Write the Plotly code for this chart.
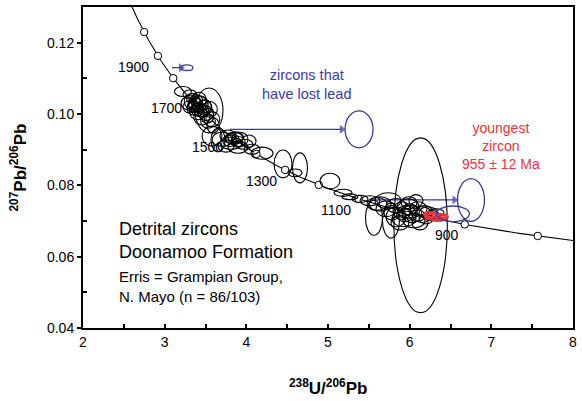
import numpy as np
import plotly.graph_objects as go

# Decay constants (per year) and 238U/235U ratio for the Tera-Wasserburg concordia
LAMBDA_238 = 1.55125e-10
LAMBDA_235 = 9.8485e-10
U_RATIO = 137.88

marker_ages_ma = [2000, 1900, 1800, 1700, 1600, 1500, 1400, 1300, 1200, 1100, 1000, 900, 800]
curve_age_min, curve_age_max = 755, 2110

age_labels = ["1900", "1700", "1500", "1300", "1100", "900"]
age_label_x = [2.62, 3.02, 3.53, 4.19, 5.10, 6.46]
age_label_y = [0.1131, 0.1016, 0.0908, 0.0813, 0.0731, 0.0660]

# Black error ellipses: centre x, centre y, half-width, half-height
ell_x = [3.224, 3.310, 3.543, 3.335, 3.384, 3.433, 3.482, 3.408, 3.506, 3.555, 3.359, 3.457, 3.580,
         3.531, 3.286, 3.592, 3.420, 3.580, 3.370, 3.450, 3.520, 3.300,
         3.350, 3.400, 3.470, 3.440, 3.390, 3.500,
         3.702, 3.775, 3.849, 3.922, 3.812, 3.971, 3.751, 3.898, 4.033, 3.653, 4.069, 3.800, 3.870,
         3.830, 3.900,
         4.192, 4.449, 4.657, 4.596,
         5.024, 5.184, 5.269, 5.392, 5.514, 5.600, 5.563, 5.771, 6.134,
         5.637, 5.710, 5.833, 5.906, 5.979, 6.028, 6.102, 5.930, 6.053, 5.833, 6.151, 6.224,
         6.126, 5.992, 5.784, 6.200, 6.273, 5.881, 6.077, 5.735, 6.322, 5.960, 6.090, 6.180,
         6.000, 5.940]
ell_y = [0.1063, 0.1055, 0.1010, 0.1035, 0.1024, 0.1027, 0.1018, 0.1007, 0.1002, 0.1013, 0.1016, 0.0991, 0.0985,
         0.0980, 0.1030, 0.0968, 0.1041, 0.0938, 0.1030, 0.1010, 0.0995, 0.1020,
         0.1022, 0.1012, 0.1008, 0.1030, 0.1038, 0.1022,
         0.0929, 0.0938, 0.0932, 0.0929, 0.0918, 0.0915, 0.0910, 0.0907, 0.0924, 0.0927, 0.0901, 0.0925, 0.0935,
         0.0930, 0.0922,
         0.0890, 0.0860, 0.0849, 0.0835,
         0.0812, 0.0779, 0.0768, 0.0762, 0.0757, 0.0748, 0.0709, 0.0701, 0.0688,
         0.0748, 0.0734, 0.0743, 0.0729, 0.0740, 0.0720, 0.0734, 0.0706, 0.0701, 0.0712, 0.0718, 0.0723,
         0.0695, 0.0751, 0.0723, 0.0706, 0.0715, 0.0695, 0.0757, 0.0757, 0.0723, 0.0725, 0.0715, 0.0728,
         0.0732, 0.0716]
ell_rx = [0.104, 0.086, 0.171, 0.095, 0.090, 0.100, 0.095, 0.105, 0.095, 0.090, 0.085, 0.100, 0.095,
          0.090, 0.085, 0.075, 0.090, 0.122, 0.080, 0.085, 0.080, 0.075,
          0.070, 0.075, 0.070, 0.080, 0.075, 0.070,
          0.122, 0.098, 0.110, 0.098, 0.135, 0.110, 0.098, 0.122, 0.086, 0.086, 0.098, 0.090, 0.095,
          0.080, 0.085,
          0.135, 0.110, 0.092, 0.086,
          0.122, 0.110, 0.098, 0.098, 0.122, 0.122, 0.104, 0.104, 0.327,
          0.135, 0.122, 0.122, 0.110, 0.135, 0.122, 0.110, 0.147, 0.135, 0.122, 0.122, 0.110,
          0.098, 0.098, 0.098, 0.086, 0.098, 0.110, 0.086, 0.159, 0.098, 0.110, 0.100, 0.095,
          0.090, 0.100]
ell_ry = [0.0014, 0.00125, 0.0063, 0.0022, 0.0020, 0.0024, 0.0021, 0.0023, 0.0020, 0.0022, 0.0019, 0.0022, 0.0021,
          0.0020, 0.0018, 0.0022, 0.0020, 0.0028, 0.0020, 0.0019, 0.0021, 0.0017,
          0.0017, 0.0018, 0.0017, 0.0019, 0.0016, 0.0018,
          0.0020, 0.0017, 0.0017, 0.0020, 0.0017, 0.0014, 0.0017, 0.0017, 0.0017, 0.0033, 0.0014, 0.0016, 0.0015,
          0.0014, 0.0015,
          0.0017, 0.0039, 0.0042, 0.0011,
          0.0022, 0.0010, 0.0008, 0.0010, 0.0014, 0.0018, 0.0049, 0.0049, 0.0245,
          0.0020, 0.0022, 0.0020, 0.0025, 0.0022, 0.0025, 0.0020, 0.0022, 0.0020, 0.0028, 0.0022, 0.0017,
          0.0020, 0.0017, 0.0020, 0.0014, 0.0014, 0.0020, 0.0017, 0.0022, 0.0011, 0.0018, 0.0016, 0.0015,
          0.0016, 0.0018]

# Youngest zircon (red)
red_x = [6.310, 6.396, 6.249, 6.347]
red_y = [0.0712, 0.0712, 0.0718, 0.0706]
red_rx = [0.122, 0.073, 0.073, 0.085]
red_ry = [0.0008, 0.0007, 0.0007, 0.0006]

# Lead-loss zircons (blue)
blue_x = [3.273, 5.380, 6.751, 6.530]
blue_y = [0.1130, 0.0957, 0.0759, 0.0720]
blue_rx = [0.073, 0.171, 0.165, 0.202]
blue_ry = [0.0008, 0.0052, 0.0060, 0.0022]

# Blue arrows (start x, end x, y)
arrow_x0 = [3.09, 3.80, 5.51]
arrow_x1 = [3.20, 5.17, 6.55]
arrow_y = [0.1130, 0.0957, 0.0759]

BLUE = "#3B3B9E"
RED = "#E8323C"
FONT = "Arial, Liberation Sans, sans-serif"


def concordia(t_ma):
    t = np.asarray(t_ma, dtype=float) * 1e6
    e238 = np.exp(LAMBDA_238 * t) - 1.0
    e235 = np.exp(LAMBDA_235 * t) - 1.0
    return 1.0 / e238, e235 / e238 / U_RATIO


fig = go.Figure()

shapes = []
for cx, cy, rx, ry in zip(ell_x, ell_y, ell_rx, ell_ry):
    shapes.append(dict(type="circle", xref="x", yref="y", x0=cx - rx, x1=cx + rx,
                       y0=cy - ry, y1=cy + ry, line=dict(color="black", width=1.1)))
for cx, cy, rx, ry in zip(red_x, red_y, red_rx, red_ry):
    shapes.append(dict(type="circle", xref="x", yref="y", x0=cx - rx, x1=cx + rx,
                       y0=cy - ry, y1=cy + ry, line=dict(color=RED, width=2)))
for cx, cy, rx, ry in zip(blue_x, blue_y, blue_rx, blue_ry):
    shapes.append(dict(type="circle", xref="x", yref="y", x0=cx - rx, x1=cx + rx,
                       y0=cy - ry, y1=cy + ry, line=dict(color=BLUE, width=1.3)))

# Concordia curve
t_curve = np.linspace(curve_age_min, curve_age_max, 400)
cx_, cy_ = concordia(t_curve)
fig.add_trace(go.Scatter(x=cx_, y=cy_, mode="lines", line=dict(color="black", width=1.1),
                         hoverinfo="skip", showlegend=False))
mx, my = concordia(marker_ages_ma)
fig.add_trace(go.Scatter(x=mx, y=my, mode="markers",
                         marker=dict(symbol="circle", size=7.5, color="white",
                                     line=dict(color="black", width=1)),
                         showlegend=False))

# Blue arrows as line traces with triangular heads
for x0, x1, y in zip(arrow_x0, arrow_x1, arrow_y):
    fig.add_trace(go.Scatter(x=[x0, x1], y=[y, y], mode="lines+markers",
                             line=dict(color=BLUE, width=1.3),
                             marker=dict(symbol=["circle", "triangle-right"], size=[0, 8],
                                         color=BLUE, line=dict(width=0)),
                             hoverinfo="skip", showlegend=False))

annotations = []
for txt, ax_, ay_ in zip(age_labels, age_label_x, age_label_y):
    annotations.append(dict(x=ax_, y=ay_, xref="x", yref="y", text=txt, showarrow=False,
                            font=dict(family=FONT, size=14, color="black")))

annotations += [
    dict(x=4.74, y=0.1084, xref="x", yref="y", text="zircons that<br>have lost lead",
         showarrow=False, font=dict(family=FONT, size=14.5, color=BLUE)),
    dict(x=7.12, y=0.0910, xref="x", yref="y", text="youngest<br>zircon<br>955 ± 12 Ma",
         showarrow=False, font=dict(family=FONT, size=14, color=RED)),
    dict(x=2.42, y=0.0645, xref="x", yref="y", xanchor="left",
         text="Detrital zircons<br>Doonamoo Formation", showarrow=False, align="left",
         font=dict(family=FONT, size=18, color="black")),
    dict(x=2.42, y=0.0516, xref="x", yref="y", xanchor="left",
         text="Erris = Grampian Group,<br>N. Mayo (n = 86/103)", showarrow=False, align="left",
         font=dict(family=FONT, size=15, color="black")),
    dict(x=0.5, y=0, xref="paper", yref="paper", yanchor="middle", yshift=-59,
         text="<b><sup>238</sup>U/<sup>206</sup>Pb</b>", showarrow=False,
         font=dict(family=FONT, size=17, color="black")),
    dict(x=0, y=0.5, xref="paper", yref="paper", xanchor="center", xshift=-65, textangle=-90,
         text="<b><sup>207</sup>Pb/<sup>206</sup>Pb</b>", showarrow=False,
         font=dict(family=FONT, size=17, color="black")),
]

fig.update_layout(
    width=582, height=401,
    margin=dict(l=83, r=9, t=5, b=73),
    paper_bgcolor="white", plot_bgcolor="white",
    shapes=shapes, annotations=annotations,
    font=dict(family=FONT, size=14, color="black"),
    showlegend=False,
)
fig.update_xaxes(range=[2, 8], tickvals=[2, 3, 4, 5, 6, 7, 8], ticks="inside", ticklen=4,
                 tickwidth=1.5, tickcolor="black", showgrid=False, zeroline=False,
                 showline=True, linecolor="black", linewidth=2, mirror=True,
                 minor=dict(tickvals=[2.5, 3.5, 4.5, 5.5, 6.5, 7.5], ticks="inside", ticklen=4,
                            tickcolor="black", tickwidth=1.5),
                 tickfont=dict(family=FONT, size=14))
fig.update_yaxes(range=[0.04, 0.13], tickvals=[0.04, 0.06, 0.08, 0.10, 0.12], tickformat=".2f",
                 ticks="outside", ticklen=4, tickwidth=1.5, tickcolor="black",
                 showgrid=False, zeroline=False, showline=True, linecolor="black", linewidth=2,
                 mirror=True,
                 minor=dict(tickvals=[0.05, 0.07, 0.09, 0.11], ticks="inside", ticklen=4,
                            tickcolor="black", tickwidth=1.5),
                 tickfont=dict(family=FONT, size=14))

fig.write_html("out.html", config={"displayModeBar": False},
               post_script="document.body.style.margin='0px';")
